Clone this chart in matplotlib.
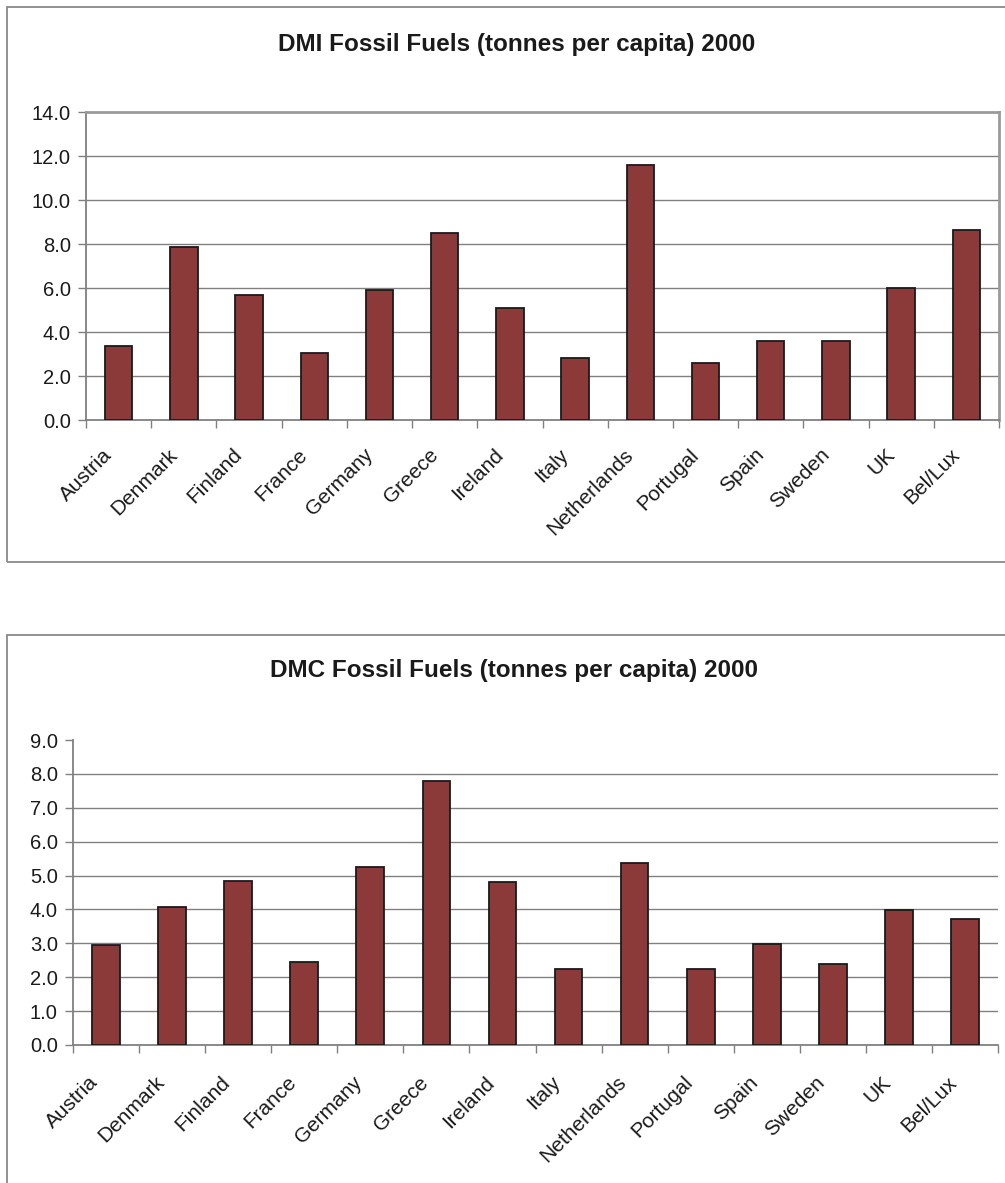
import matplotlib
matplotlib.use("Agg")
import matplotlib.pyplot as plt
from matplotlib.patches import Rectangle
from matplotlib.ticker import FixedLocator, FormatStrFormatter

plt.rcParams['font.family'] = ['Liberation Sans', 'DejaVu Sans']

countries = ['Austria', 'Denmark', 'Finland', 'France', 'Germany', 'Greece',
             'Ireland', 'Italy', 'Netherlands', 'Portugal', 'Spain', 'Sweden',
             'UK', 'Bel/Lux']

# tonnes per capita, 2000
dmi = [3.35, 7.87, 5.70, 3.04, 5.93, 8.48, 5.07, 2.81, 11.60, 2.58, 3.57, 3.57,
       6.00, 8.63]
dmc = [2.94, 4.06, 4.85, 2.45, 5.25, 7.79, 4.80, 2.25, 5.38, 2.25, 2.98, 2.40,
       3.97, 3.72]

bar_color = '#8B3A39'
grid_color = '#808080'

fig = plt.figure(figsize=(10.05, 11.83), dpi=100)

# chart-area borders around each chart
fig.patches.append(Rectangle((7 / 1005, 1 - 562 / 1183), 1.1, 555 / 1183,
                             transform=fig.transFigure, fill=False,
                             edgecolor='#8a8a8a', linewidth=1.3))
fig.patches.append(Rectangle((7 / 1005, -0.1), 1.1, 0.1 + 1 - 635 / 1183,
                             transform=fig.transFigure, fill=False,
                             edgecolor='#8a8a8a', linewidth=1.3))


def draw_chart(ax, values, ymax, step, framed, label_shift, label_pad):
    x = range(len(countries))
    ax.bar(x, values, width=0.42, color=bar_color, edgecolor='#1a1a1a',
           linewidth=1.3, zorder=3)
    ax.set_xlim(-0.5, len(countries) - 0.5)
    ax.set_ylim(0, ymax)

    yticks = [i * step for i in range(int(round(ymax / step)) + 1)]
    ax.set_yticks(yticks)
    ax.yaxis.set_major_formatter(FormatStrFormatter('%.1f'))
    for y in yticks[1:-1]:
        ax.axhline(y, color=grid_color, linewidth=1.0, zorder=1)

    # category boundaries get the tick marks, labels sit slightly left of the bars
    ax.xaxis.set_major_locator(FixedLocator([i - 0.5 for i in range(len(countries) + 1)]))
    ax.xaxis.set_minor_locator(FixedLocator([i - label_shift for i in x]))
    ax.set_xticklabels([], minor=False)
    ax.set_xticklabels(countries, minor=True, rotation=45, ha='right',
                       rotation_mode='anchor', fontsize=15, color='#1a1a1a')
    ax.tick_params(axis='x', which='major', length=6, color=grid_color, width=1)
    ax.tick_params(axis='x', which='minor', length=0, pad=label_pad)
    ax.tick_params(axis='y', length=6, color=grid_color, width=1,
                   labelsize=14.5, labelcolor='#1a1a1a', pad=5)

    for side in ['left', 'bottom']:
        ax.spines[side].set_color(grid_color)
        ax.spines[side].set_linewidth(1.3)
    if framed:
        for side in ['top', 'right']:
            ax.spines[side].set_color('#9a9a9a')
            ax.spines[side].set_linewidth(2.0)
    else:
        ax.spines['top'].set_visible(False)
        ax.spines['right'].set_visible(False)


ax1 = fig.add_axes([86 / 1005, 1 - 420 / 1183, 913 / 1005, 308 / 1183])
draw_chart(ax1, dmi, 14, 2, True, 0.25, 18)
fig.text(0.514, 1 - 44 / 1183, 'DMI Fossil Fuels (tonnes per capita) 2000',
         ha='center', va='center', fontsize=17.5, fontweight='bold',
         color='#1a1a1a')

ax2 = fig.add_axes([73 / 1005, 1 - 1045 / 1183, 925 / 1005, 305 / 1183])
draw_chart(ax2, dmc, 9, 1, False, 0.27, 20)
fig.text(0.511, 1 - 671 / 1183, 'DMC Fossil Fuels (tonnes per capita) 2000',
         ha='center', va='center', fontsize=17.5, fontweight='bold',
         color='#1a1a1a')

fig.savefig('out.png', dpi=100, facecolor='white')
